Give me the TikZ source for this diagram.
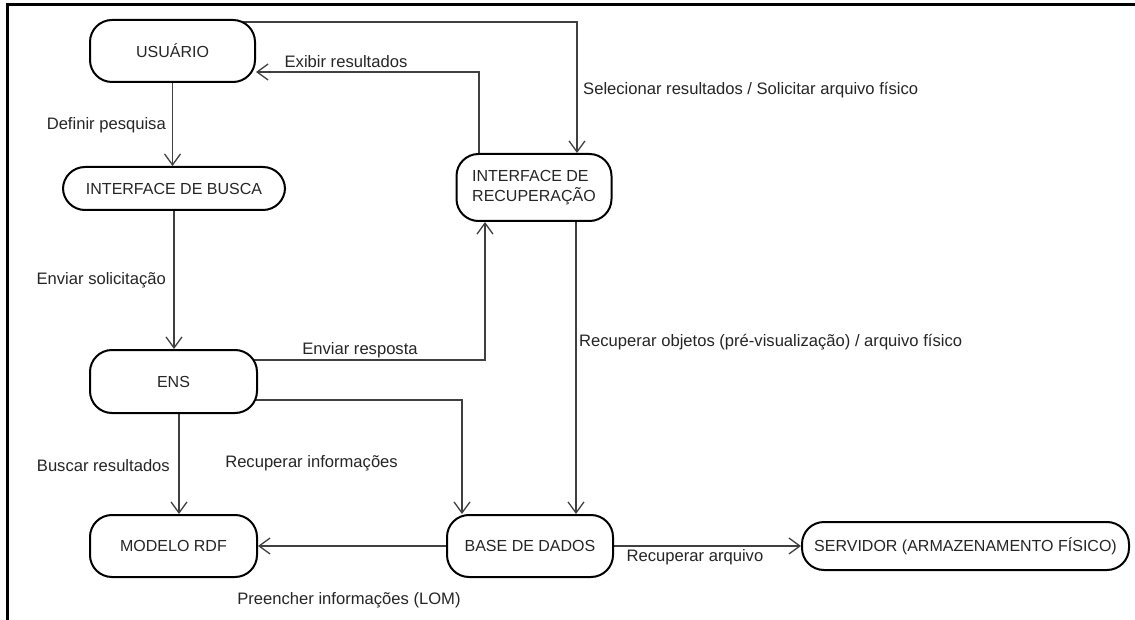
\documentclass[tikz,border=0pt]{standalone}
\usepackage{fontspec}
\setmainfont{Liberation Sans}
\usetikzlibrary{arrows.meta,calc,backgrounds}
\begin{document}
\begin{tikzpicture}[x=1pt,y=-1pt,
  box/.style={draw=black,line width=2pt,rounded corners=22pt,fill=white,
    inner sep=0pt,font=\fontsize{16}{19.5}\selectfont,text=black!85},
  conn/.style={draw=black!75,line width=1.3pt,
    -{Straight Barb[length=11pt,width=16pt]}},
  lbl/.style={inner sep=0pt,font=\fontsize{16.6}{19}\selectfont,text=black!85},
]
\useasboundingbox (0,0) rectangle (1135,620);

% frame (top and left edges)
\draw[line width=3pt] (7,620) -- (7,5) -- (1135,5);

% components
\node[box,minimum width=165pt,minimum height=62pt] (usr) at (172.5,51) {USUÁRIO};
\node[box,minimum width=222pt,minimum height=43pt] (busca) at (174,188.5) {INTERFACE DE BUSCA};
\node[box,minimum width=155pt,minimum height=67pt,align=left] (recup) at (534,187.5) {INTERFACE DE\\RECUPERAÇÃO};
\node[box,minimum width=167pt,minimum height=63pt] (ens) at (173.5,381.5) {ENS};
\node[box,minimum width=167pt,minimum height=62pt] (rdf) at (173.5,546) {MODELO RDF};
\node[box,minimum width=166pt,minimum height=62pt] (base) at (530,546) {BASE DE DADOS};
\node[box,minimum width=327pt,minimum height=48pt] (serv) at (965.5,546) {SERVIDOR (ARMAZENAMENTO FÍSICO)};

% attachment points on the components
\coordinate (usrTop) at ($(usr.north)+(0,3)$);
\coordinate (usrExib) at ($(usr.east)+(0,21)$);
\coordinate (recSel) at ($(recup.north)+(43,0)$);
\coordinate (recExib) at ($(recup.north)+(-55,0)$);
\coordinate (recResp) at ($(recup.south)+(-49,0)$);
\coordinate (baseInf) at ($(base.north)+(-68,0)$);
\coordinate (baseObj) at ($(base.north)+(46,0)$);
\coordinate (ensDown) at ($(ens)+(5.5,0)$);

% connectors, kept underneath the boxes
\begin{scope}[on background layer]
\fill[white] (0,0) rectangle (1135,620);
\draw[conn] (usr) -- (usr |- busca.north);
\draw[conn] (busca) -- (busca |- ens.north);
\draw[conn] (ensDown) -- (ensDown |- rdf.north);
\draw[conn] (usrTop) -| (recSel);
\draw[conn] (recExib |- recup) |- (usrExib);
\draw[conn] ($(ens)+(0,-21.5)$) -| (recResp);
\draw[conn] ($(ens)+(0,18.5)$) -| (baseInf);
\draw[conn] (baseObj |- recup) -- (baseObj);
\draw[conn] (base) -- (rdf);
\draw[conn] (base) -- (serv);
\end{scope}

% connector labels
\node[lbl] (lExib) at (346,62) {Exibir resultados};
\node[lbl,anchor=west] (lSel) at (583,90) {Selecionar resultados / Solicitar arquivo físico};
\node[lbl,anchor=east] (lDef) at (166,125) {Definir pesquisa};
\node[lbl,anchor=east] (lSol) at (166,280) {Enviar solicitação};
\node[lbl] (lResp) at (360,350) {Enviar resposta};
\node[lbl,anchor=west] (lObj) at (579,342) {Recuperar objetos (pré-visualização) / arquivo físico};
\node[lbl,anchor=east] (lBus) at (170,466) {Buscar resultados};
\node[lbl,anchor=east] (lInf) at (398,463) {Recuperar informações};
\node[lbl] (lPre) at (349,600) {Preencher informações (LOM)};
\node[lbl] (lArq) at (695,557) {Recuperar arquivo};
\end{tikzpicture}
\end{document}
